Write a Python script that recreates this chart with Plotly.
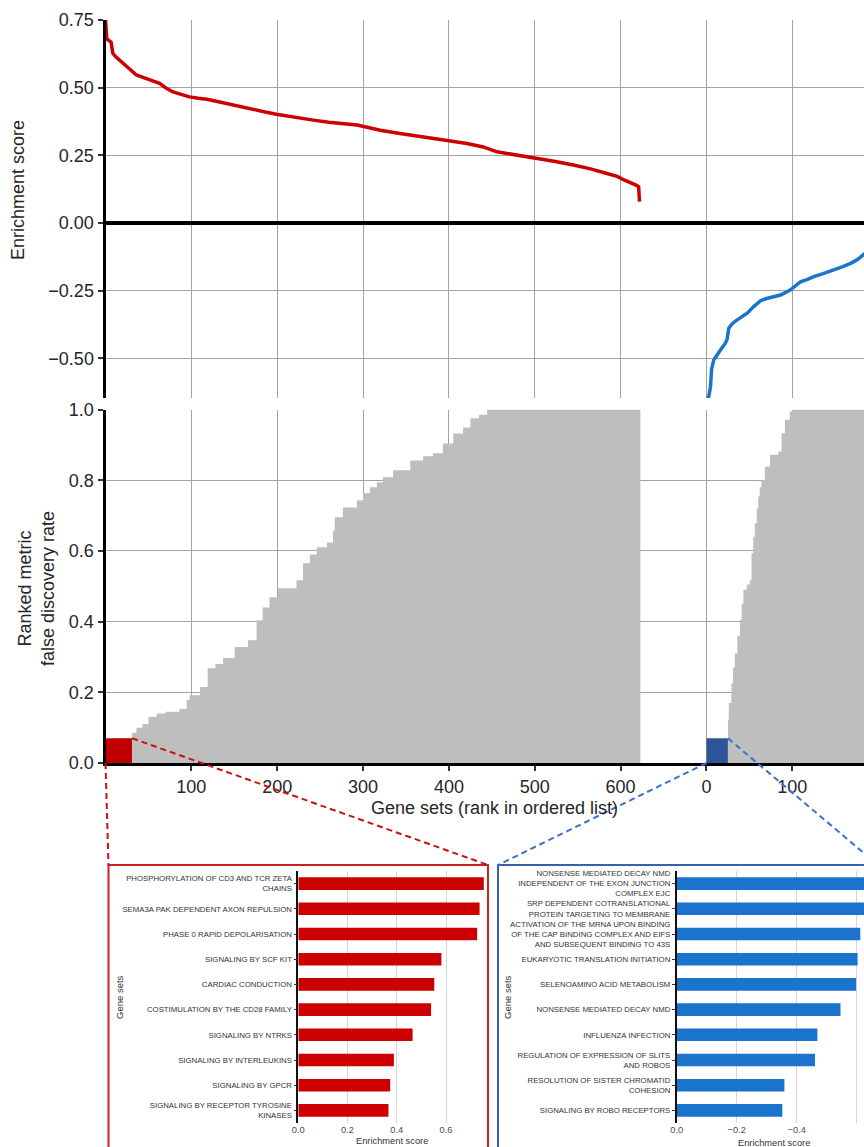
import plotly.graph_objects as go

# ---------------- data ----------------
# running enrichment score, positively enriched gene sets (rank, ES)
pos_rank = [0, 1.5, 6.5, 8.5, 12, 18, 24, 30, 36, 42, 48, 56, 63, 70, 78, 88, 98, 108,
            118, 133, 148, 160, 172, 186, 199, 213, 226, 242, 260, 276, 293, 306, 320,
            343, 366, 394, 421, 440, 456, 480, 502, 524, 545, 565, 584, 596, 604, 612,
            618, 621, 622]
pos_es = [0.752, 0.68, 0.668, 0.627, 0.614, 0.598, 0.583, 0.565, 0.547, 0.540, 0.534,
          0.525, 0.516, 0.500, 0.485, 0.475, 0.466, 0.461, 0.457, 0.447, 0.436, 0.426,
          0.417, 0.410, 0.402, 0.394, 0.386, 0.380, 0.372, 0.367, 0.362, 0.353, 0.343,
          0.331, 0.319, 0.307, 0.294, 0.281, 0.263, 0.251, 0.239, 0.227, 0.214, 0.200,
          0.183, 0.172, 0.159, 0.150, 0.140, 0.134, 0.079]

# running enrichment score, negatively enriched gene sets (rank, ES)
neg_rank = [0, 2.7, 4.7, 6, 8.5, 12, 16.3, 22, 24, 26, 30, 35.8, 41, 47.5, 55, 63, 70,
            78, 86.3, 98, 104, 109.6, 117, 125, 136, 148.5, 158, 168, 176, 183.5, 186]
neg_es = [-0.66, -0.641, -0.604, -0.54, -0.506, -0.488, -0.469, -0.444, -0.43, -0.389,
          -0.372, -0.358, -0.346, -0.333, -0.309, -0.287, -0.279, -0.272, -0.266, -0.247,
          -0.232, -0.217, -0.209, -0.198, -0.187, -0.174, -0.162, -0.149, -0.135,
          -0.115, -0.11]

# false discovery rate by rank (after the significant head of each list)
pos_fdr_rank = [31, 36, 43, 50, 59.5, 70, 86, 94.5, 98, 110, 119, 128, 137, 150.5,
                166, 176, 183, 191, 201, 212, 222.5, 230, 238, 246, 258, 265, 267, 276.5,
                293, 300, 308, 316, 323, 335, 355, 370, 381.5, 393, 405, 416.5, 425, 435,
                444.5, 623]
pos_fdr = [0.085, 0.10, 0.11, 0.13, 0.14, 0.145, 0.153, 0.178, 0.192, 0.215,
           0.268, 0.28, 0.297, 0.328, 0.347, 0.404, 0.44, 0.469, 0.494, 0.494, 0.517,
           0.565, 0.59, 0.61, 0.624, 0.658, 0.695, 0.723, 0.743, 0.763, 0.78, 0.794,
           0.808, 0.828, 0.856, 0.868, 0.876, 0.904, 0.932, 0.949, 0.975, 0.985, 1.0, 1.0]

neg_fdr_rank = [25, 26, 29, 31, 33, 36, 39, 41, 43, 47, 50.5, 52.5,
                54.5, 56.4, 58.5, 60.3, 62, 64, 68, 74, 83.6, 87.5, 91.4, 97, 101, 190]
neg_fdr = [0.122, 0.17, 0.225, 0.27, 0.31, 0.36, 0.405, 0.45, 0.49,
           0.505, 0.518, 0.593, 0.64, 0.678, 0.72, 0.754, 0.78, 0.80, 0.839, 0.872,
           0.881, 0.933, 0.971, 0.994, 1.0, 1.0]

# significant blocks at the head of each list
pos_sig_n = 31
neg_sig_n = 25
sig_fdr = 0.07

# the negative list is placed after the positive one on a shared axis
neg_offset = 700
rank_ticks = [100, 200, 300, 400, 500, 600, 700, 800]
rank_tick_text = ["100", "200", "300", "400", "500", "600", "0", "100"]

# top gene sets
pos_sets = ["PHOSPHORYLATION OF CD3 AND TCR ZETA<br>CHAINS",
            "SEMA3A PAK DEPENDENT AXON REPULSION",
            "PHASE 0 RAPID DEPOLARISATION",
            "SIGNALING BY SCF KIT",
            "CARDIAC CONDUCTION",
            "COSTIMULATION BY THE CD28 FAMILY",
            "SIGNALING BY NTRKS",
            "SIGNALING BY INTERLEUKINS",
            "SIGNALING BY GPCR",
            "SIGNALING BY RECEPTOR TYROSINE<br>KINASES"]
pos_set_es = [0.753, 0.736, 0.726, 0.581, 0.552, 0.539, 0.464, 0.388, 0.373, 0.366]

neg_sets = ["NONSENSE MEDIATED DECAY NMD<br>INDEPENDENT OF THE EXON JUNCTION<br>COMPLEX EJC",
            "SRP DEPENDENT COTRANSLATIONAL<br>PROTEIN TARGETING TO MEMBRANE",
            "ACTIVATION OF THE MRNA UPON BINDING<br>OF THE CAP BINDING COMPLEX AND EIFS<br>AND SUBSEQUENT BINDING TO 43S",
            "EUKARYOTIC TRANSLATION INITIATION",
            "SELENOAMINO ACID METABOLISM",
            "NONSENSE MEDIATED DECAY NMD",
            "INFLUENZA INFECTION",
            "REGULATION OF EXPRESSION OF SLITS<br>AND ROBOS",
            "RESOLUTION OF SISTER CHROMATID<br>COHESION",
            "SIGNALING BY ROBO RECEPTORS"]
neg_set_es = [-0.647, -0.64, -0.612, -0.603, -0.598, -0.546, -0.469, -0.461, -0.359, -0.352]

# ---------------- layout helpers ----------------
W, H = 864, 1147


def fx(px):
    return px / W


def fy(py):
    return 1 - py / H


FONT = "Liberation Sans, Arial, Helvetica, sans-serif"
RED = "#cd0000"
BLUE = "#1874cd"
GRID = "#a3a3a3"
TXT = "#262626"

main_xdom = [fx(105.5), 1.0]
x_max = 883.5
es_dom = [fy(398), fy(20)]
es_range = [-0.6466, 0.75]
fdr_dom = [fy(763), fy(409.5)]
inset_ydom = [fy(1123), fy(871)]


def main_x(v):
    return main_xdom[0] + v / x_max * (main_xdom[1] - main_xdom[0])


def fdr_y(v):
    return fdr_dom[0] + v * (fdr_dom[1] - fdr_dom[0])


fig = go.Figure()

# enrichment score curves
fig.add_trace(go.Scatter(x=pos_rank, y=pos_es, mode="lines",
                         line=dict(color=RED, width=3.5), xaxis="x", yaxis="y"))
fig.add_trace(go.Scatter(x=[neg_offset + r for r in neg_rank], y=neg_es, mode="lines",
                         line=dict(color=BLUE, width=3.5), xaxis="x", yaxis="y"))

# FDR profiles
fig.add_trace(go.Scatter(x=pos_fdr_rank, y=pos_fdr, mode="lines", line_shape="hv",
                         line=dict(width=0, color="#bebebe"), fill="tozeroy",
                         fillcolor="#bebebe", xaxis="x2", yaxis="y2"))
fig.add_trace(go.Scatter(x=[neg_offset + r for r in neg_fdr_rank], y=neg_fdr, mode="lines",
                         line_shape="hv", line=dict(width=0, color="#bebebe"),
                         fill="tozeroy", fillcolor="#bebebe", xaxis="x2", yaxis="y2"))

# significant blocks
fig.add_trace(go.Bar(x=[pos_sig_n / 2], y=[sig_fdr], width=[pos_sig_n],
                     marker=dict(color="#c00000", line=dict(width=0)),
                     xaxis="x2", yaxis="y2"))
fig.add_trace(go.Bar(x=[neg_offset + neg_sig_n / 2], y=[sig_fdr], width=[neg_sig_n],
                     marker=dict(color="#2c5597", line=dict(width=0)),
                     xaxis="x2", yaxis="y2"))

# top gene set bars
fig.add_trace(go.Bar(x=pos_set_es, y=pos_sets, orientation="h", width=0.5,
                     marker=dict(color="#cc0000", line=dict(width=0)),
                     xaxis="x3", yaxis="y3"))
fig.add_trace(go.Bar(x=neg_set_es, y=neg_sets, orientation="h", width=0.5,
                     marker=dict(color="#1a73cc", line=dict(width=0)),
                     xaxis="x4", yaxis="y4"))

main_tick = dict(family=FONT, size=18, color=TXT)
small_tick = dict(family=FONT, size=9.3, color="#4d4d4d")
cat_tick = dict(family=FONT, size=7.8, color="#333333")

fig.update_layout(
    width=W, height=H, margin=dict(l=0, r=0, t=0, b=0),
    paper_bgcolor="white", plot_bgcolor="white", showlegend=False,
    template="none", font=dict(family=FONT, color=TXT),
    xaxis=dict(domain=main_xdom, range=[0, x_max], anchor="y", tickvals=rank_ticks,
               showticklabels=False, ticks="", showgrid=True, gridcolor=GRID,
               gridwidth=1.2, zeroline=False, showline=False, automargin=False),
    yaxis=dict(domain=es_dom, range=es_range, anchor="x", tickvals=[-0.5, -0.25, 0, 0.25, 0.5, 0.75],
               tickformat=".2f", tickfont=main_tick, ticks="outside", ticklen=5,
               tickwidth=1.5, tickcolor="#333", showgrid=True, gridcolor=GRID, gridwidth=1.2,
               zeroline=True, zerolinecolor="black", zerolinewidth=3.5,
               showline=True, linecolor="black", linewidth=3, automargin=False),
    xaxis2=dict(domain=main_xdom, range=[0, x_max], anchor="y2", tickvals=rank_ticks,
                ticktext=rank_tick_text, tickfont=main_tick, ticks="outside", ticklen=5,
                tickwidth=1.5, tickcolor="#333", showgrid=True, gridcolor=GRID,
                gridwidth=1.2, zeroline=False, showline=True, linecolor="black",
                linewidth=3, automargin=False),
    yaxis2=dict(domain=fdr_dom, range=[0, 1.0], anchor="x2", dtick=0.2, tick0=0,
                tickformat=".1f", tickfont=main_tick, ticks="outside", ticklen=5,
                tickwidth=1.5, tickcolor="#333", showgrid=True, gridcolor=GRID,
                gridwidth=1.2, zeroline=False, showline=True, linecolor="black",
                linewidth=3, automargin=False),
    xaxis3=dict(domain=[fx(298.3), fx(485.5)], range=[0, 0.76], anchor="y3",
                tickvals=[0, 0.2, 0.4, 0.6], tickformat=".1f", tickfont=small_tick,
                ticks="", showgrid=True, gridcolor="#d6d6d6", gridwidth=1,
                zeroline=False, showline=False, automargin=False),
    yaxis3=dict(domain=inset_ydom, anchor="x3", type="category", autorange="reversed",
                tickfont=cat_tick, ticks="outside", ticklen=3, tickwidth=1,
                tickcolor="#333", showgrid=False, showline=True, linecolor="#111",
                linewidth=1.6, automargin=False),
    xaxis4=dict(domain=[fx(676.7), 1.0], range=[0, -0.6243], anchor="y4",
                tickvals=[0, -0.2, -0.4, -0.6], tickformat=".1f", tickfont=small_tick,
                ticks="", showgrid=True, gridcolor="#d6d6d6", gridwidth=1,
                zeroline=False, showline=False, automargin=False),
    yaxis4=dict(domain=inset_ydom, anchor="x4", type="category", autorange="reversed",
                tickfont=cat_tick, ticks="outside", ticklen=3, tickwidth=1,
                tickcolor="#333", showgrid=False, showline=True, linecolor="#111",
                linewidth=1.6, automargin=False),
)

# axis titles
ann = [
    dict(text="Enrichment score", x=fx(18), y=fy(190), textangle=-90,
         font=dict(family=FONT, size=18, color=TXT)),
    dict(text="Ranked metric<br>false discovery rate", x=fx(36), y=fy(589), textangle=-90,
         font=dict(family=FONT, size=18, color=TXT)),
    dict(text="Gene sets (rank in ordered list)", x=fx(495), y=fy(808),
         font=dict(family=FONT, size=18, color=TXT)),
    dict(text="Enrichment score", x=fx(392), y=fy(1141),
         font=dict(family=FONT, size=9.3, color="#333")),
    dict(text="Enrichment score", x=fx(774), y=fy(1143),
         font=dict(family=FONT, size=9.3, color="#333")),
    dict(text="Gene sets", x=fx(119), y=fy(997), textangle=-90,
         font=dict(family=FONT, size=9.5, color="#333")),
    dict(text="Gene sets", x=fx(507), y=fy(997), textangle=-90,
         font=dict(family=FONT, size=9.5, color="#333")),
]
for a in ann:
    a.update(xref="paper", yref="paper", showarrow=False, xanchor="center", yanchor="middle")
fig.update_layout(annotations=ann)

# inset frames and connector lines
red_box = (108.5, 488, 865)
blue_box = (498, 878, 865)
shapes = [
    dict(type="rect", xref="paper", yref="paper", x0=fx(red_box[0]), x1=fx(red_box[1]),
         y0=fy(red_box[2]), y1=fy(1170), line=dict(color="#cc1f1f", width=2)),
    dict(type="rect", xref="paper", yref="paper", x0=fx(blue_box[0]), x1=fx(blue_box[1]),
         y0=fy(blue_box[2]), y1=fy(1170), line=dict(color="#3561ad", width=2)),
    dict(type="line", xref="paper", yref="paper", x0=main_x(pos_sig_n), y0=fdr_y(sig_fdr),
         x1=fx(red_box[1]), y1=fy(red_box[2]),
         line=dict(color="#cc1010", width=2, dash="6px,4px")),
    dict(type="line", xref="paper", yref="paper", x0=main_x(0), y0=fdr_y(0),
         x1=fx(red_box[0]), y1=fy(red_box[2]),
         line=dict(color="#cc1010", width=2, dash="6px,4px")),
    dict(type="line", xref="paper", yref="paper", x0=main_x(neg_offset), y0=fdr_y(0),
         x1=fx(blue_box[0]), y1=fy(blue_box[2]),
         line=dict(color="#3a6fd2", width=2, dash="6px,4px")),
    dict(type="line", xref="paper", yref="paper", x0=main_x(neg_offset + neg_sig_n),
         y0=fdr_y(sig_fdr), x1=fx(blue_box[1]), y1=fy(blue_box[2]),
         line=dict(color="#3a6fd2", width=2, dash="6px,4px")),
]
fig.update_layout(shapes=shapes)

fig.write_html("out.html")
